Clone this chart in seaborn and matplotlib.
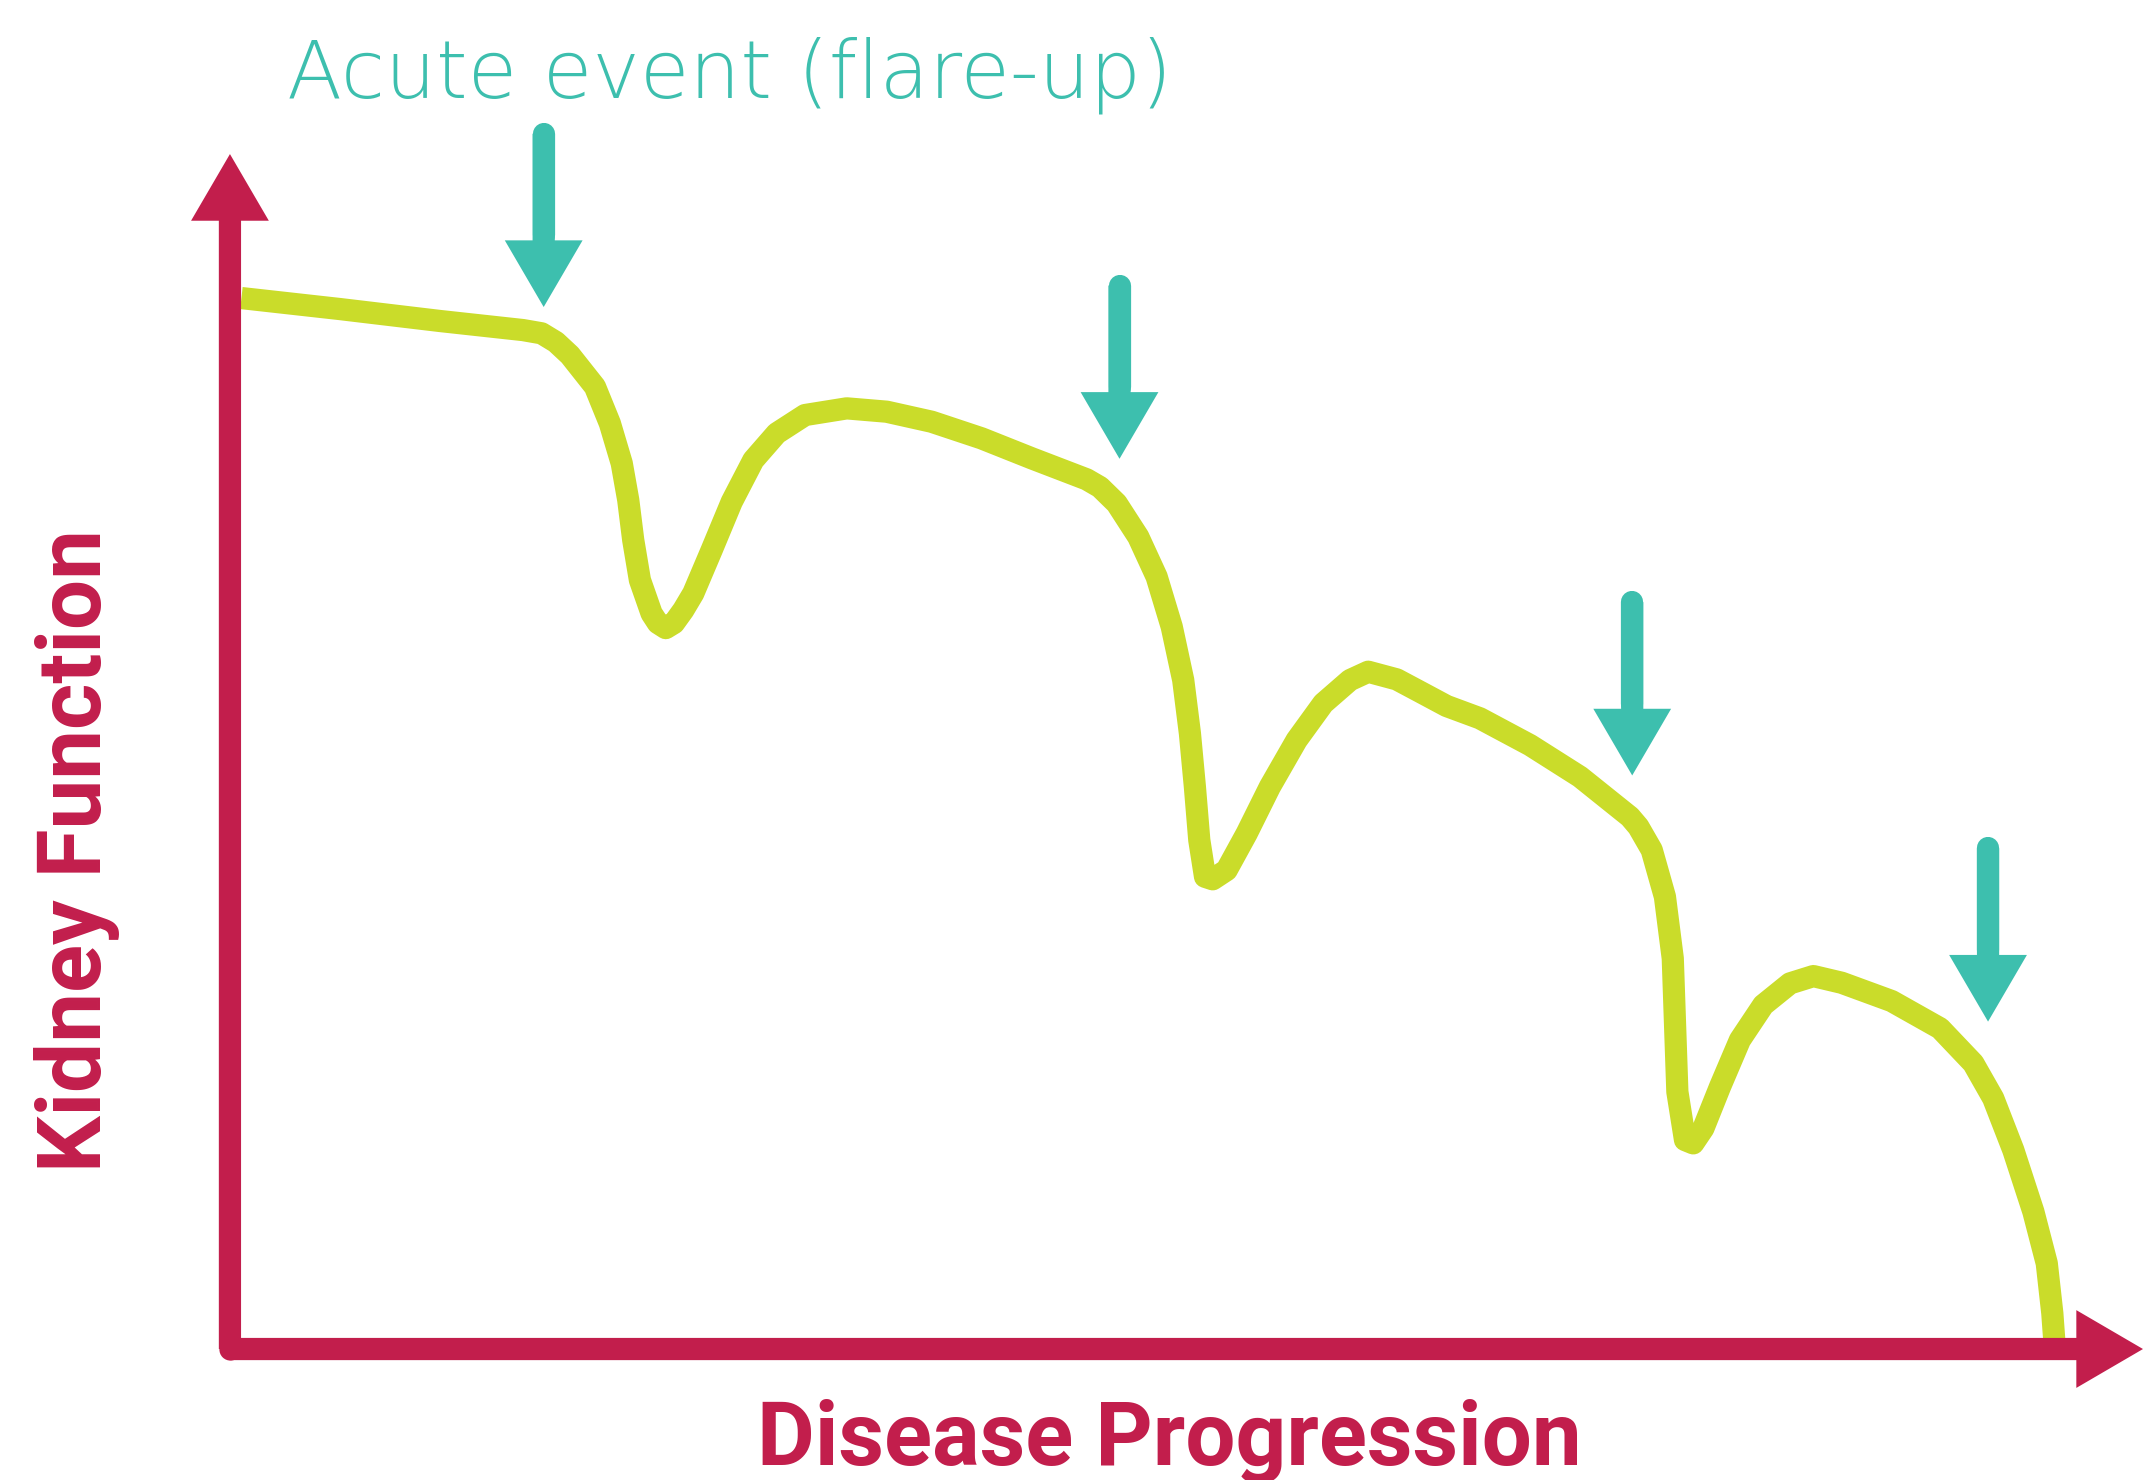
import numpy as np
import pandas as pd
import matplotlib.pyplot as plt
import seaborn as sns

# Cores do esquema
CRIMSON = '#C21E4C'
TEAL = '#3DBFAE'
LIME = '#CADC2A'

# Curva da função renal (escala 0-100 nos dois eixos)
progressao = [0.6, 5.75, 10.98, 15.32, 16.29, 17.04, 17.77, 19.08, 19.86, 20.48,
              20.82, 21.08, 21.43, 22.04, 22.37, 22.78, 23.21, 23.70, 24.22, 25.18,
              26.23, 27.36, 28.58, 30.06, 32.24, 34.33, 36.68, 39.29, 41.91, 44.78,
              45.48, 46.35, 47.48, 48.44, 49.23, 49.83, 50.18, 50.44, 50.67, 50.97,
              51.37, 52.10, 53.15, 54.36, 55.76, 57.15, 58.55, 59.50, 60.99, 62.21,
              63.60, 65.34, 67.96, 70.57, 73.18, 73.62, 74.32, 75.01, 75.42, 75.54,
              75.66, 76.06, 76.49, 77.02, 77.89, 78.93, 80.15, 81.55, 82.77, 84.25,
              86.86, 89.39, 91.13, 92.17, 93.22, 94.27, 94.97, 95.26, 95.38]
funcao = [87.95, 87.03, 86.03, 85.27, 85.00, 84.27, 83.18, 80.53, 77.46, 74.12,
          71.05, 67.70, 64.35, 61.56, 60.75, 60.33, 60.75, 61.84, 63.24, 66.86,
          70.90, 74.39, 76.63, 78.16, 78.72, 78.44, 77.60, 76.21, 74.54, 72.78,
          72.13, 70.77, 67.97, 64.63, 60.44, 55.98, 51.52, 47.05, 42.59, 39.52,
          39.31, 40.08, 43.15, 47.05, 50.96, 54.03, 55.98, 56.68, 56.04, 55.00,
          53.81, 52.78, 50.54, 47.89, 44.54, 43.71, 41.76, 37.85, 32.69, 27.11,
          21.53, 17.49, 17.21, 18.47, 21.95, 25.86, 28.79, 30.60, 31.21, 30.65,
          29.12, 26.84, 23.91, 20.98, 16.65, 11.49, 7.17, 2.99, 0.33]

# Eventos agudos (posição e ponta da seta)
evento_x = [16.4, 46.5, 73.3, 91.9]
evento_ponta = [87.2, 74.5, 48.0, 27.4]
COMPRIMENTO_SETA = 14.5

df = pd.DataFrame({'progressao': progressao, 'funcao': funcao})

sns.set_theme(style='white')
plt.rcParams['font.family'] = ['Roboto', 'DejaVu Sans']

fig = plt.figure(figsize=(21.43, 14.80), dpi=100)
ax = fig.add_axes([0.1073, 0.0885, 0.8927, 0.8074])
ax.set_xlim(0, 100)
ax.set_ylim(0, 100)
ax.axis('off')

sns.lineplot(data=df, x='progressao', y='funcao', sort=False, estimator=None,
             color=LIME, linewidth=16, ax=ax, zorder=2)
for line in ax.lines:
    line.set_solid_joinstyle('round')
    line.set_solid_capstyle('butt')

estilo_seta = 'simple,head_length=48,head_width=56,tail_width=16'

# Eixos com setas
for destino in [(0, 1), (1, 0)]:
    ax.annotate('', xy=destino, xytext=(0, 0), xycoords='axes fraction',
                annotation_clip=False,
                arrowprops=dict(arrowstyle=estilo_seta, mutation_scale=1,
                                fc=CRIMSON, ec='none', lw=0, shrinkA=0, shrinkB=0),
                zorder=5)
ax.scatter([0], [0], s=16 ** 2, color=CRIMSON, clip_on=False, zorder=5, linewidths=0)

# Setas dos eventos agudos
for x, ponta in zip(evento_x, evento_ponta):
    topo = ponta + COMPRIMENTO_SETA
    ax.annotate('', xy=(x, ponta), xytext=(x, topo), annotation_clip=False,
                arrowprops=dict(arrowstyle=estilo_seta, mutation_scale=1,
                                fc=TEAL, ec='none', lw=0, shrinkA=0, shrinkB=0),
                zorder=4)
    ax.plot([x, x], [topo, ponta + 6], color=TEAL, lw=16, solid_capstyle='round',
            clip_on=False, zorder=4)

# Textos
fig.text(287 / 2143, 1 - 97 / 1480, 'Acute event (flare-up)', color=TEAL,
         fontsize=58, fontweight=200, family=['DejaVu Sans'],
         ha='left', va='baseline')
fig.text(0.5455, 0.0101, 'Disease Progression', color=CRIMSON, fontsize=64,
         fontweight='bold', ha='center', va='baseline')
fig.text(0.036, 0.425, 'Kidney Function', color=CRIMSON, fontsize=64,
         fontweight='bold', rotation=90, ha='center', va='center')

fig.savefig('out.png', dpi=100)
